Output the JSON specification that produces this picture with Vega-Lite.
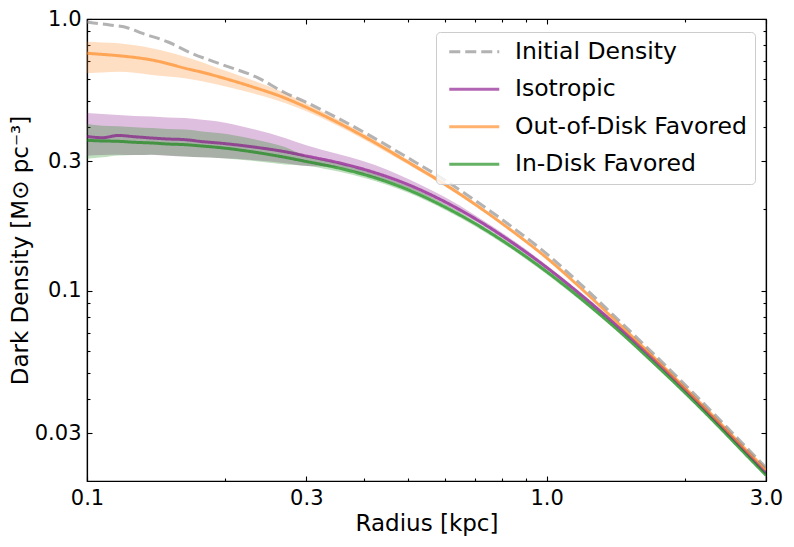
{
  "$schema": "https://vega.github.io/schema/vega-lite/v6.json",
  "width": 679,
  "height": 462,
  "autosize": {"type": "none"},
  "padding": {"left": 87, "top": 19, "right": 28, "bottom": 66},
  "config": {
    "font": "DejaVu Sans",
    "view": {"stroke": "#000000", "strokeWidth": 1.2},
    "axis": {
      "domainColor": "#000000", "domainWidth": 1.2,
      "tickColor": "#000000", "tickWidth": 1.1,
      "labelColor": "#000000", "titleColor": "#000000",
      "labelFontSize": 21, "titleFontSize": 23, "titleFontWeight": "normal",
      "grid": false, "labelOverlap": false, "labelFlush": false
    },
    "legend": {
      "orient": "none", "legendX": 349, "legendY": 13,
      "fillColor": "rgba(255,255,255,0.8)", "strokeColor": "#cccccc", "cornerRadius": 4,
      "padding": 8, "labelFontSize": 23.5, "labelColor": "#000000",
      "symbolType": "M-2.5,0H2.5", "symbolSize": 400, "symbolStrokeWidth": 3,
      "symbolOffset": 18.5,
      "labelOffset": 29, "rowPadding": 12.5, "labelLimit": 400
    }
  },
  "datasets": {
    "rows": [
      {"series": "Isotropic", "r": 0.1, "rho": 0.370, "lo": 0.314, "hi": 0.451},
      {"series": "Isotropic", "r": 0.108, "rho": 0.366, "lo": 0.316, "hi": 0.447},
      {"series": "Isotropic", "r": 0.117, "rho": 0.373, "lo": 0.317, "hi": 0.444},
      {"series": "Isotropic", "r": 0.127, "rho": 0.369, "lo": 0.316, "hi": 0.440},
      {"series": "Isotropic", "r": 0.1383, "rho": 0.365, "lo": 0.317, "hi": 0.438},
      {"series": "Isotropic", "r": 0.150, "rho": 0.362, "lo": 0.314, "hi": 0.434},
      {"series": "Isotropic", "r": 0.1634, "rho": 0.360, "lo": 0.312, "hi": 0.432},
      {"series": "Isotropic", "r": 0.178, "rho": 0.354, "lo": 0.310, "hi": 0.426},
      {"series": "Isotropic", "r": 0.193, "rho": 0.350, "lo": 0.308, "hi": 0.420},
      {"series": "Isotropic", "r": 0.2282, "rho": 0.339, "lo": 0.303, "hi": 0.395},
      {"series": "Isotropic", "r": 0.2696, "rho": 0.325, "lo": 0.295, "hi": 0.365},
      {"series": "Isotropic", "r": 0.3, "rho": 0.3134, "lo": 0.288, "hi": 0.343},
      {"series": "Isotropic", "r": 0.35, "rho": 0.2969, "lo": 0.2856, "hi": 0.3192},
      {"series": "Isotropic", "r": 0.4, "rho": 0.2801, "lo": 0.2689, "hi": 0.2997},
      {"series": "Isotropic", "r": 0.5, "rho": 0.2459, "lo": 0.2385, "hi": 0.2582},
      {"series": "Isotropic", "r": 0.6, "rho": 0.2129, "lo": 0.2076, "hi": 0.2214},
      {"series": "Isotropic", "r": 0.7, "rho": 0.1841, "lo": 0.1804, "hi": 0.1896},
      {"series": "Isotropic", "r": 0.85, "rho": 0.1489, "lo": 0.1459, "hi": 0.1526},
      {"series": "Isotropic", "r": 1.0, "rho": 0.1220, "lo": 0.1202, "hi": 0.1244},
      {"series": "Isotropic", "r": 1.2, "rho": 0.0953, "lo": 0.0939, "hi": 0.0972},
      {"series": "Isotropic", "r": 1.4, "rho": 0.0762, "lo": 0.0751, "hi": 0.0777},
      {"series": "Isotropic", "r": 1.7, "rho": 0.0564, "lo": 0.0556, "hi": 0.0575},
      {"series": "Isotropic", "r": 2.0, "rho": 0.0433, "lo": 0.0428, "hi": 0.0440},
      {"series": "Isotropic", "r": 2.4, "rho": 0.0317, "lo": 0.0313, "hi": 0.0322},
      {"series": "Isotropic", "r": 2.7, "rho": 0.0258, "lo": 0.0255, "hi": 0.0262},
      {"series": "Isotropic", "r": 3.0, "rho": 0.0214, "lo": 0.0211, "hi": 0.0217},

      {"series": "Out-of-Disk Favored", "r": 0.1, "rho": 0.748, "lo": 0.632, "hi": 0.825},
      {"series": "Out-of-Disk Favored", "r": 0.108, "rho": 0.741, "lo": 0.636, "hi": 0.820},
      {"series": "Out-of-Disk Favored", "r": 0.117, "rho": 0.733, "lo": 0.640, "hi": 0.814},
      {"series": "Out-of-Disk Favored", "r": 0.127, "rho": 0.722, "lo": 0.634, "hi": 0.800},
      {"series": "Out-of-Disk Favored", "r": 0.1383, "rho": 0.707, "lo": 0.623, "hi": 0.781},
      {"series": "Out-of-Disk Favored", "r": 0.150, "rho": 0.685, "lo": 0.615, "hi": 0.756},
      {"series": "Out-of-Disk Favored", "r": 0.1634, "rho": 0.659, "lo": 0.606, "hi": 0.727},
      {"series": "Out-of-Disk Favored", "r": 0.178, "rho": 0.637, "lo": 0.590, "hi": 0.693},
      {"series": "Out-of-Disk Favored", "r": 0.193, "rho": 0.614, "lo": 0.5725, "hi": 0.659},
      {"series": "Out-of-Disk Favored", "r": 0.2282, "rho": 0.564, "lo": 0.534, "hi": 0.597},
      {"series": "Out-of-Disk Favored", "r": 0.2696, "rho": 0.512, "lo": 0.491, "hi": 0.534},
      {"series": "Out-of-Disk Favored", "r": 0.3, "rho": 0.4733, "lo": 0.4577, "hi": 0.4894},
      {"series": "Out-of-Disk Favored", "r": 0.35, "rho": 0.4173, "lo": 0.4056, "hi": 0.4290},
      {"series": "Out-of-Disk Favored", "r": 0.4, "rho": 0.3700, "lo": 0.3608, "hi": 0.3793},
      {"series": "Out-of-Disk Favored", "r": 0.5, "rho": 0.2972, "lo": 0.2913, "hi": 0.3031},
      {"series": "Out-of-Disk Favored", "r": 0.6, "rho": 0.2468, "lo": 0.2426, "hi": 0.2510},
      {"series": "Out-of-Disk Favored", "r": 0.7, "rho": 0.2077, "lo": 0.2050, "hi": 0.2104},
      {"series": "Out-of-Disk Favored", "r": 0.85, "rho": 0.1639, "lo": 0.1618, "hi": 0.1660},
      {"series": "Out-of-Disk Favored", "r": 1.0, "rho": 0.1323, "lo": 0.1306, "hi": 0.1340},
      {"series": "Out-of-Disk Favored", "r": 1.2, "rho": 0.1006, "lo": 0.0997, "hi": 0.1015},
      {"series": "Out-of-Disk Favored", "r": 1.4, "rho": 0.0788, "lo": 0.0781, "hi": 0.0795},
      {"series": "Out-of-Disk Favored", "r": 1.7, "rho": 0.0576, "lo": 0.0571, "hi": 0.0581},
      {"series": "Out-of-Disk Favored", "r": 2.0, "rho": 0.0440, "lo": 0.0436, "hi": 0.0444},
      {"series": "Out-of-Disk Favored", "r": 2.4, "rho": 0.0323, "lo": 0.0320, "hi": 0.0326},
      {"series": "Out-of-Disk Favored", "r": 2.7, "rho": 0.0263, "lo": 0.0261, "hi": 0.0265},
      {"series": "Out-of-Disk Favored", "r": 3.0, "rho": 0.0220, "lo": 0.0218, "hi": 0.0222},

      {"series": "In-Disk Favored", "r": 0.1, "rho": 0.358, "lo": 0.306, "hi": 0.411},
      {"series": "In-Disk Favored", "r": 0.108, "rho": 0.356, "lo": 0.310, "hi": 0.405},
      {"series": "In-Disk Favored", "r": 0.117, "rho": 0.355, "lo": 0.315, "hi": 0.403},
      {"series": "In-Disk Favored", "r": 0.127, "rho": 0.352, "lo": 0.316, "hi": 0.400},
      {"series": "In-Disk Favored", "r": 0.1383, "rho": 0.350, "lo": 0.317, "hi": 0.397},
      {"series": "In-Disk Favored", "r": 0.150, "rho": 0.347, "lo": 0.315, "hi": 0.394},
      {"series": "In-Disk Favored", "r": 0.1634, "rho": 0.345, "lo": 0.312, "hi": 0.392},
      {"series": "In-Disk Favored", "r": 0.178, "rho": 0.341, "lo": 0.310, "hi": 0.386},
      {"series": "In-Disk Favored", "r": 0.193, "rho": 0.337, "lo": 0.308, "hi": 0.381},
      {"series": "In-Disk Favored", "r": 0.2282, "rho": 0.325, "lo": 0.301, "hi": 0.363},
      {"series": "In-Disk Favored", "r": 0.2696, "rho": 0.310, "lo": 0.292, "hi": 0.338},
      {"series": "In-Disk Favored", "r": 0.3, "rho": 0.2992, "lo": 0.2887, "hi": 0.3127},
      {"series": "In-Disk Favored", "r": 0.35, "rho": 0.2839, "lo": 0.2754, "hi": 0.2953},
      {"series": "In-Disk Favored", "r": 0.4, "rho": 0.2681, "lo": 0.2606, "hi": 0.2775},
      {"series": "In-Disk Favored", "r": 0.5, "rho": 0.2353, "lo": 0.2294, "hi": 0.2424},
      {"series": "In-Disk Favored", "r": 0.6, "rho": 0.2037, "lo": 0.1990, "hi": 0.2088},
      {"series": "In-Disk Favored", "r": 0.7, "rho": 0.1765, "lo": 0.1726, "hi": 0.1804},
      {"series": "In-Disk Favored", "r": 0.85, "rho": 0.1432, "lo": 0.1402, "hi": 0.1462},
      {"series": "In-Disk Favored", "r": 1.0, "rho": 0.1177, "lo": 0.1152, "hi": 0.1202},
      {"series": "In-Disk Favored", "r": 1.2, "rho": 0.0923, "lo": 0.0905, "hi": 0.0941},
      {"series": "In-Disk Favored", "r": 1.4, "rho": 0.0740, "lo": 0.0727, "hi": 0.0753},
      {"series": "In-Disk Favored", "r": 1.7, "rho": 0.0548, "lo": 0.0539, "hi": 0.0557},
      {"series": "In-Disk Favored", "r": 2.0, "rho": 0.0422, "lo": 0.0415, "hi": 0.0429},
      {"series": "In-Disk Favored", "r": 2.4, "rho": 0.0310, "lo": 0.0305, "hi": 0.0315},
      {"series": "In-Disk Favored", "r": 2.7, "rho": 0.0252, "lo": 0.0248, "hi": 0.0256},
      {"series": "In-Disk Favored", "r": 3.0, "rho": 0.0210, "lo": 0.0207, "hi": 0.0213},

      {"series": "Initial Density", "r": 0.1, "rho": 0.975},
      {"series": "Initial Density", "r": 0.1015, "rho": 0.971},
      {"series": "Initial Density", "r": 0.1122, "rho": 0.951},
      {"series": "Initial Density", "r": 0.1228, "rho": 0.927},
      {"series": "Initial Density", "r": 0.1311, "rho": 0.889},
      {"series": "Initial Density", "r": 0.1501, "rho": 0.823},
      {"series": "Initial Density", "r": 0.1684, "rho": 0.750},
      {"series": "Initial Density", "r": 0.1976, "rho": 0.678},
      {"series": "Initial Density", "r": 0.2344, "rho": 0.610},
      {"series": "Initial Density", "r": 0.2670, "rho": 0.540},
      {"series": "Initial Density", "r": 0.3, "rho": 0.4937},
      {"series": "Initial Density", "r": 0.35, "rho": 0.4335},
      {"series": "Initial Density", "r": 0.4, "rho": 0.3837},
      {"series": "Initial Density", "r": 0.5, "rho": 0.3082},
      {"series": "Initial Density", "r": 0.6, "rho": 0.2557},
      {"series": "Initial Density", "r": 0.7, "rho": 0.2148},
      {"series": "Initial Density", "r": 0.85, "rho": 0.1695},
      {"series": "Initial Density", "r": 1.0, "rho": 0.1369},
      {"series": "Initial Density", "r": 1.2, "rho": 0.1039},
      {"series": "Initial Density", "r": 1.4, "rho": 0.0812},
      {"series": "Initial Density", "r": 1.7, "rho": 0.0592},
      {"series": "Initial Density", "r": 2.0, "rho": 0.0452},
      {"series": "Initial Density", "r": 2.4, "rho": 0.0331},
      {"series": "Initial Density", "r": 2.7, "rho": 0.0269},
      {"series": "Initial Density", "r": 3.0, "rho": 0.0224}
    ]
  },
  "data": {"name": "rows"},
  "layer": [
    {
      "transform": [{"filter": "datum.series == 'Isotropic'"}],
      "mark": {"type": "area", "opacity": 0.25, "color": "#800080", "interpolate": "monotone", "clip": true},
      "encoding": {
        "x": {
          "field": "r", "type": "quantitative",
          "scale": {"type": "log", "domain": [0.1, 3.0], "nice": false},
          "axis": {
            "orient": "bottom",
            "values": [0.1, 0.2, 0.3, 0.4, 0.5, 0.6, 0.7, 0.8, 0.9, 1, 2, 3],
            "labelExpr": "datum.value == 0.1 ? '0.1' : datum.value == 0.3 ? '0.3' : datum.value == 1 ? '1.0' : datum.value == 3 ? '3.0' : ''",
            "tickSize": {"condition": {"test": "indexof([0.1, 0.3, 1, 3], datum.value) >= 0", "value": -5}, "value": -3},
            "labelPadding": 11,
            "title": "Radius [kpc]",
            "titlePadding": 2
          }
        },
        "y": {
          "field": "lo", "type": "quantitative",
          "scale": {"type": "log", "domain": [0.02, 1.0], "nice": false},
          "axis": {
            "orient": "left",
            "values": [0.03, 0.04, 0.05, 0.06, 0.07, 0.08, 0.09, 0.1, 0.2, 0.3, 0.4, 0.5, 0.6, 0.7, 0.8, 0.9, 1],
            "labelExpr": "datum.value == 1 ? '1.0' : datum.value == 0.3 ? '0.3' : datum.value == 0.1 ? '0.1' : datum.value == 0.03 ? '0.03' : ''",
            "tickSize": {"condition": {"test": "indexof([0.03, 0.1, 0.3, 1], datum.value) >= 0", "value": -5}, "value": -3},
            "labelPadding": 11,
            "title": "Dark Density [M⊙ pc⁻³]",
            "titlePadding": 2
          }
        },
        "y2": {"field": "hi"}
      }
    },
    {
      "transform": [{"filter": "datum.series == 'Out-of-Disk Favored'"}],
      "mark": {"type": "area", "opacity": 0.25, "color": "#ff7f0e", "interpolate": "monotone", "clip": true},
      "encoding": {
        "x": {
          "field": "r", "type": "quantitative",
          "axis": {
            "orient": "top",
            "values": [0.1, 0.2, 0.3, 0.4, 0.5, 0.6, 0.7, 0.8, 0.9, 1, 2, 3],
            "labels": false,
            "tickSize": {"condition": {"test": "indexof([0.1, 0.3, 1, 3], datum.value) >= 0", "value": -5}, "value": -3},
            "title": null
          }
        },
        "y": {
          "field": "lo", "type": "quantitative",
          "axis": {
            "orient": "right",
            "values": [0.03, 0.04, 0.05, 0.06, 0.07, 0.08, 0.09, 0.1, 0.2, 0.3, 0.4, 0.5, 0.6, 0.7, 0.8, 0.9, 1],
            "labels": false,
            "tickSize": {"condition": {"test": "indexof([0.03, 0.1, 0.3, 1], datum.value) >= 0", "value": -5}, "value": -3},
            "title": null
          }
        },
        "y2": {"field": "hi"}
      }
    },
    {
      "transform": [{"filter": "datum.series == 'In-Disk Favored'"}],
      "mark": {"type": "area", "opacity": 0.25, "color": "#008000", "interpolate": "monotone", "clip": true},
      "encoding": {
        "x": {"field": "r", "type": "quantitative", "axis": null},
        "y": {"field": "lo", "type": "quantitative", "axis": null},
        "y2": {"field": "hi"}
      }
    },
    {
      "mark": {"type": "line", "strokeWidth": 3, "opacity": 0.6, "interpolate": "monotone", "clip": true},
      "encoding": {
        "x": {"field": "r", "type": "quantitative", "axis": null},
        "y": {"field": "rho", "type": "quantitative", "axis": null},
        "color": {
          "field": "series", "type": "nominal", "title": null,
          "scale": {"domain": ["Initial Density", "Isotropic", "Out-of-Disk Favored", "In-Disk Favored"], "range": ["#808080", "#800080", "#ff7f0e", "#008000"]}
        },
        "strokeDash": {
          "field": "series", "type": "nominal", "title": null,
          "scale": {"domain": ["Initial Density", "Isotropic", "Out-of-Disk Favored", "In-Disk Favored"], "range": [[11, 5], [1, 0], [1, 0], [1, 0]]}
        }
      }
    }
  ],
  "resolve": {"axis": {"x": "independent", "y": "independent"}}
}
